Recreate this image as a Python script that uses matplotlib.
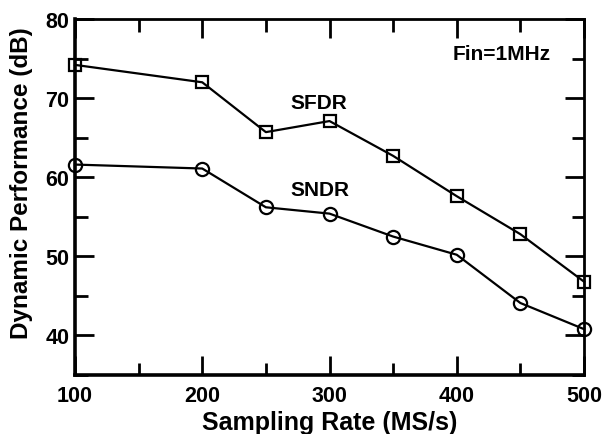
import numpy as np
import matplotlib
matplotlib.use("Agg")
import matplotlib.pyplot as plt
from matplotlib.ticker import MultipleLocator

plt.rcParams["font.family"] = ["Liberation Sans", "DejaVu Sans"]
plt.rcParams["font.weight"] = "bold"

# sampling rate sweep at Fin = 1 MHz
rate = [100, 200, 250, 300, 350, 400, 450, 500]
sfdr = [74.2, 72.0, 65.7, 67.1, 62.7, 57.6, 52.8, 46.8]
sndr = [61.6, 61.1, 56.2, 55.4, 52.5, 50.2, 44.1, 40.8]

fig = plt.figure(figsize=(6.03, 4.35), dpi=100)
ax = fig.add_axes([75 / 603, 1 - 376 / 435, (584 - 75) / 603, (376 - 20) / 435])

ax.plot(rate, sfdr, color="black", lw=1.6, marker="s", ms=8, mfc="none", mec="black", mew=1.6,
        clip_on=False, zorder=3)
ax.plot(rate, sndr, color="black", lw=1.6, marker="o", ms=9.5, mfc="none", mec="black", mew=1.6,
        clip_on=False, zorder=3)

ax.set_xlim(100, 500)
ax.set_ylim(35, 80)
ax.xaxis.set_major_locator(MultipleLocator(100))
ax.xaxis.set_minor_locator(MultipleLocator(50))
ax.yaxis.set_major_locator(MultipleLocator(10))
ax.yaxis.set_minor_locator(MultipleLocator(5))
ax.set_yticks([40, 50, 60, 70, 80])

ax.tick_params(which="both", direction="in", top=True, right=True, width=2, labelsize=15.5)
ax.tick_params(axis="x", pad=7)
ax.tick_params(axis="y", pad=4)
ax.tick_params(which="major", length=14)
ax.tick_params(which="minor", length=9)

for side in ("left", "bottom"):
    ax.spines[side].set_linewidth(2.6)
for side in ("top", "right"):
    ax.spines[side].set_linewidth(2.0)

ax.set_xlabel("Sampling Rate (MS/s)", fontsize=18, fontweight="bold")
ax.xaxis.set_label_coords(0.5, -0.097)
ax.set_ylabel("Dynamic Performance (dB)", fontsize=17.5, fontweight="bold")
ax.yaxis.set_label_coords(-0.083, 0.542)

ax.text(269, 69.5, "SFDR", fontsize=15, fontweight="bold", va="center")
ax.text(269, 58.4, "SNDR", fontsize=15, fontweight="bold", va="center")
ax.text(0.935, 0.904, "Fin=1MHz", transform=ax.transAxes, fontsize=15, fontweight="bold",
        ha="right", va="center")

fig.savefig("out.png", dpi=100)
